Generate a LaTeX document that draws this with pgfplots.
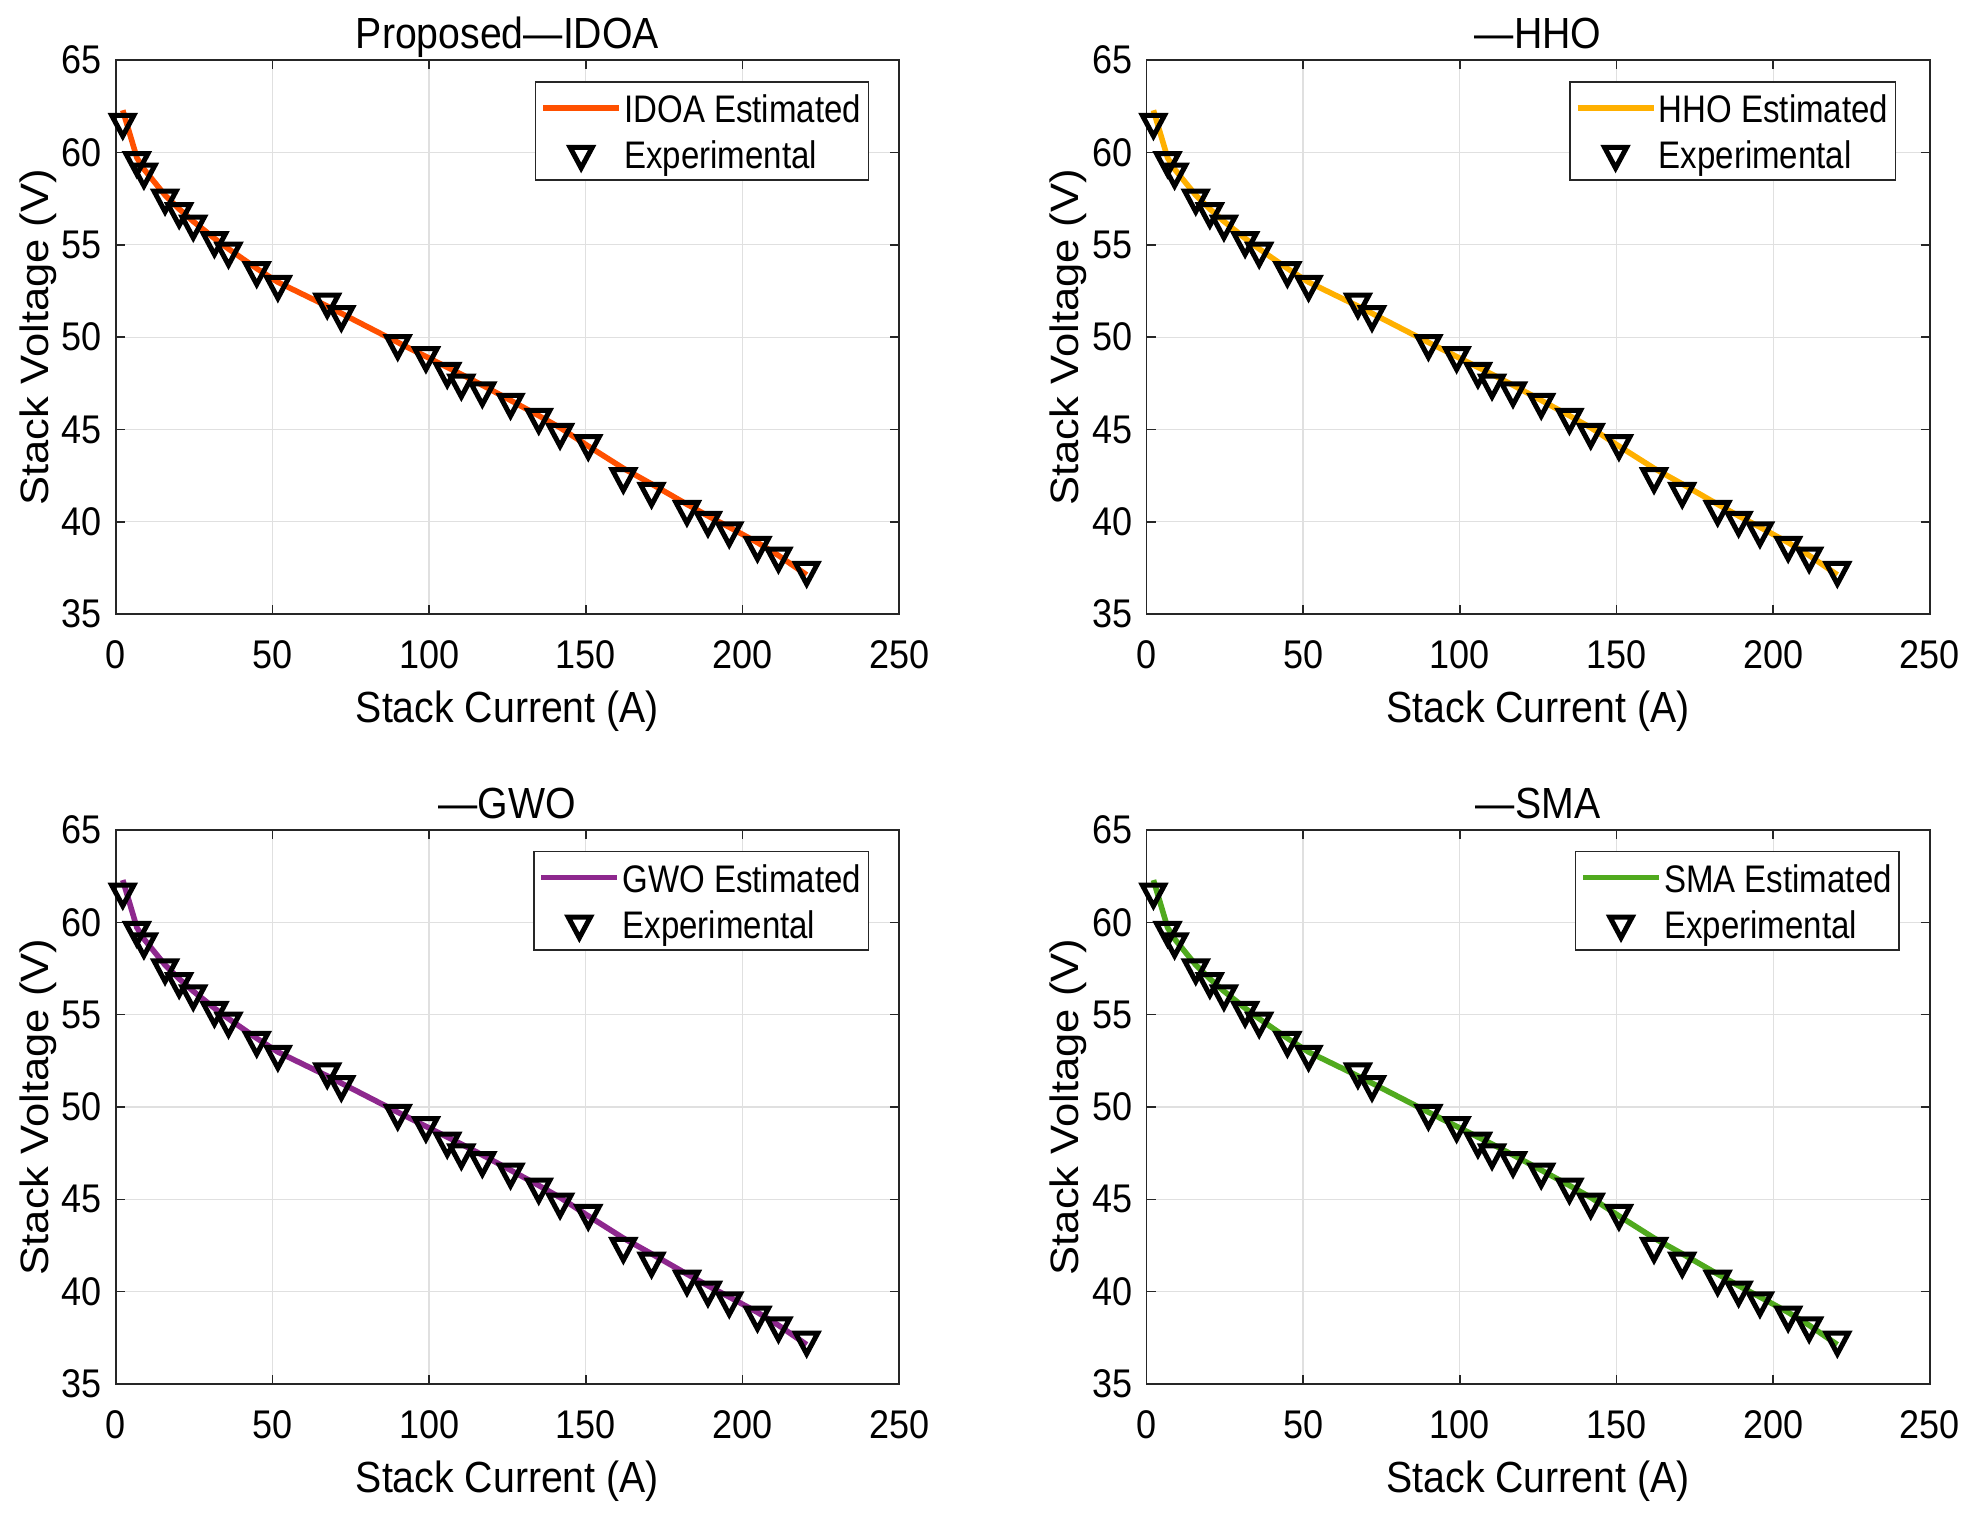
\documentclass[border=0pt]{standalone}
\usepackage{pgfplots}
\pgfplotsset{compat=1.18}
\usepackage{pgfplotstable}
\usepackage{fontspec}
\setmainfont{Liberation Sans}[FakeStretch=0.9]
\newfontfamily\ylabfont{Liberation Sans}[FakeStretch=1.1]
\newfontfamily\legfont{Liberation Sans}[FakeStretch=0.86]
\newcommand\tickf{\fontsize{10}{11}\selectfont}
\newcommand\labf{\fontsize{10.9}{12}\selectfont}
\newcommand\legf{\legfont\fontsize{9.6}{11}\selectfont}
\newcommand\ylabf{\ylabfont\fontsize{9.9}{11}\selectfont}
\definecolor{cidoa}{RGB}{255,80,0}
\definecolor{chho}{RGB}{255,176,0}
\definecolor{cgwo}{RGB}{142,40,142}
\definecolor{csma}{RGB}{80,170,30}
\definecolor{axcol}{RGB}{38,38,38}

\pgfplotstableread{
I V
2.25 61.64
6.75 59.57
9 58.94
15.75 57.54
20.25 56.80
24.75 56.13
31.5 55.23
36 54.66
45 53.61
51.75 52.86
67.5 51.91
72 51.22
90 49.66
99 49.00
105.8 48.15
110.3 47.52
117 47.10
126 46.48
135 45.66
141.8 44.85
150.8 44.24
162 42.45
171 41.66
182.3 40.68
189 40.09
195.8 39.51
204.8 38.73
211.5 38.15
220.5 37.38
}\expdata

\pgfplotstableread{
I V
2.25 62.29
6.75 59.72
9 59.10
15.75 57.69
20.25 56.94
24.75 56.27
31.5 55.35
36 54.78
45 53.72
51.75 52.98
67.5 51.68
72 51.29
90 49.72
99 48.95
105.8 48.37
110.3 47.99
117 47.40
126 46.58
135 45.75
141.8 45.10
150.8 44.10
162 42.90
171 42.05
182.3 40.95
189 40.32
195.8 39.71
204.8 38.88
211.5 38.18
220.5 37.13
}\modeldata

\pgfplotsset{
  panel/.style={
    anchor=south west,
    scale only axis, width=195.85pt, height=138.5pt,
    xmin=0, xmax=250, ymin=35, ymax=65,
    xtick={0,50,...,250}, ytick={35,40,...,65},
    clip=false,
    grid=major, major grid style={line width=0.3pt, draw=black!12},
    axis line style={line width=0.4pt, draw=axcol},
    tick align=inside, tick pos=both, major tick length=2.3pt,
    major tick style={line width=0.4pt, draw=axcol},
    /pgf/number format/assume math mode=true,
    ticklabel style={font=\tickf, text=black},
    xticklabel style={yshift=-3pt},
    xlabel={Stack Current (A)}, ylabel={Stack Voltage (V)},
    xlabel style={at={(axis description cs:0.5,0)}, anchor=base, yshift=-27.2pt, font=\labf},
    ylabel style={at={(axis description cs:-0.0863,0.5)}, anchor=base, rotate=0, font=\ylabf},
    title style={at={(axis description cs:0.5,1)}, anchor=base, yshift=-3.1pt, font=\labf},
    legend cell align=left,
    legend style={at={(axis description cs:1,1)}, anchor=north east, xshift=-7.5pt, yshift=-5.2pt,
      draw=axcol, line width=0.4pt, font=\legf, inner xsep=1.2pt, inner ysep=0.7pt, row sep=0pt,
      nodes={inner xsep=0.6pt, inner ysep=1pt, text height=8.4pt, text depth=1.2pt}},
  },
  est/.style={line width=1.4pt, #1, no marks,
    legend image code/.code={\draw[##1] (0pt,0pt) -- (19pt,0pt);}},
  expm/.style={only marks, mark=triangle, mark size=3.2pt,
    mark options={rotate=180, yscale=1.08, line width=1.25pt, draw=black, fill=none, line join=miter},
    legend image code/.code={\draw[##1] plot coordinates {(9.5pt,0pt)};}},
}

\begin{document}
\begin{tikzpicture}
\useasboundingbox (0,0) rectangle (493.5pt,379.75pt);

\begin{axis}[panel, at={(28.93pt,226.2pt)}, title={Proposed—IDOA}]
\addplot[est=cidoa] table {\modeldata};
\addlegendentry{IDOA Estimated}
\addplot[expm] table {\expdata};
\addlegendentry{Experimental}
\end{axis}

\begin{axis}[panel, at={(286.6pt,226.2pt)}, title={—HHO}, legend style={xshift=-0.9pt}]
\addplot[est=chho] table {\modeldata};
\addlegendentry{HHO Estimated}
\addplot[expm] table {\expdata};
\addlegendentry{Experimental}
\end{axis}

\begin{axis}[panel, at={(28.93pt,33.75pt)}, title={—GWO}]
\addplot[est=cgwo] table {\modeldata};
\addlegendentry{GWO Estimated}
\addplot[expm] table {\expdata};
\addlegendentry{Experimental}
\end{axis}

\begin{axis}[panel, at={(286.6pt,33.75pt)}, title={—SMA}]
\addplot[est=csma] table {\modeldata};
\addlegendentry{SMA Estimated}
\addplot[expm] table {\expdata};
\addlegendentry{Experimental}
\end{axis}
\end{tikzpicture}
\end{document}
